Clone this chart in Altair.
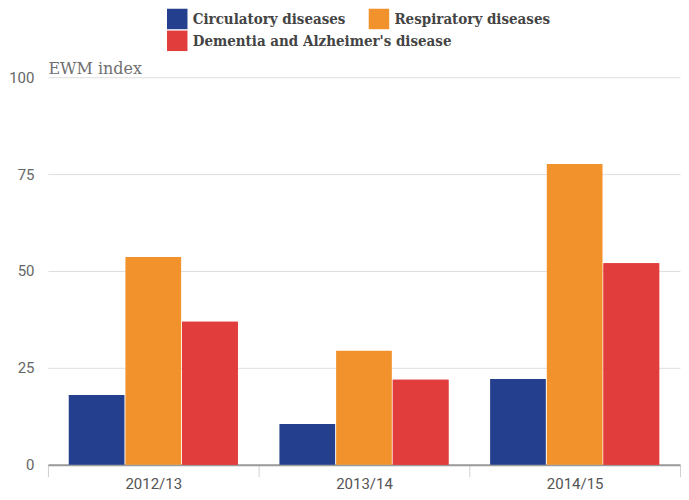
import altair as alt
import pandas as pd

years = ["2012/13", "2013/14", "2014/15"]
series_names = ["Circulatory diseases", "Respiratory diseases", "Dementia and Alzheimer's disease"]
circulatory = [18.0, 10.5, 22.1]
respiratory = [53.6, 29.4, 77.6]
dementia = [36.9, 21.9, 52.0]
colors = ["#233f8e", "#f2922c", "#e23d3d"]
y_ticks = [0, 25, 50, 75, 100]

rows = []
for name, vals in zip(series_names, [circulatory, respiratory, dementia]):
    for yr, v in zip(years, vals):
        rows.append({"year": yr, "series": name, "value": v})
df = pd.DataFrame(rows)

legend_common = dict(title=None, orient="none", direction="horizontal",
                     columnPadding=22, symbolType="square", symbolSize=420,
                     symbolStrokeWidth=0, symbolOpacity=1, labelOffset=5,
                     labelFont="DejaVu Serif Condensed", labelFontWeight="bold",
                     labelFontSize=15, labelColor="#444444", labelLimit=400)

x_enc = alt.X("year:N", sort=years, scale=alt.Scale(paddingInner=0, paddingOuter=0),
              axis=alt.Axis(title=None, labelAngle=0, tickBand="extent", tickSize=12,
                            tickColor="#d0d0d0", domainColor="#9a9a9a", domainWidth=2,
                            labelFont="Roboto", labelFontSize=15, labelColor="#555555",
                            labelPadding=0, grid=False))
xoff_enc = alt.XOffset("series:N",
                       scale=alt.Scale(domain=series_names, paddingInner=0.017, paddingOuter=0.367))
y_enc = alt.Y("value:Q", scale=alt.Scale(domain=[0, 100], nice=False),
              axis=alt.Axis(values=y_ticks, title="EWM index", titleAngle=0, titleAlign="left",
                            titleBaseline="bottom", titleX=0, titleY=-1,
                            titleFont="DejaVu Serif", titleFontWeight="normal", titleFontSize=16,
                            titleColor="#707070", domain=False, ticks=False,
                            labelFont="Roboto", labelFontSize=15, labelColor="#666666",
                            labelPadding=14, gridColor="#dedede"))

bars = alt.Chart(df).mark_bar().encode(
    x=x_enc, xOffset=xoff_enc, y=y_enc,
    color=alt.Color("series:N", scale=alt.Scale(domain=series_names, range=colors),
                    legend=alt.Legend(values=series_names[:2], legendX=119, legendY=-69,
                                      **legend_common)),
)

dementia_bars = alt.Chart(df).transform_filter(
    alt.datum.series == series_names[2]
).mark_bar().encode(
    x=x_enc, xOffset=xoff_enc, y=y_enc,
    fill=alt.Fill("series:N", scale=alt.Scale(domain=[series_names[2]], range=[colors[2]]),
                  legend=alt.Legend(legendX=119, legendY=-47, **legend_common)),
)

chart = alt.layer(bars, dementia_bars).properties(
    width=633, height=388, padding=0,
).configure_view(stroke=None)

chart.save("out.html", embed_options={"renderer": "svg", "actions": False})
